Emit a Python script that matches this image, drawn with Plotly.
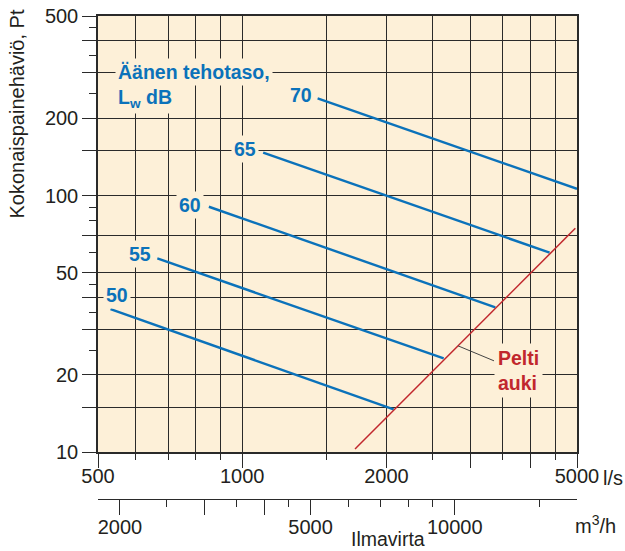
import numpy as np
import plotly.graph_objects as go

# ---- data -------------------------------------------------------------
# Sound power level lines (Lw dB): start / end points in flow (l/s) and pressure (Pa)
sound_levels = [50, 55, 60, 65, 70]
level_start_flow = [531, 665, 852, 1106, 1437]
level_start_dp = [36.1, 56.9, 90.4, 146.8, 239.0]
level_end_flow = [2071, 2634, 3376, 4383, 5000]
level_end_dp = [14.7, 23.2, 36.7, 59.9, 106.2]

# Damper fully open curve
damper_flow = [1720, 4960]
damper_dp = [10.3, 74.5]
damper_label_flow = 2822  # where the "Pelti auki" leader touches the curve

# Axis ticks
flow_major = [500, 1000, 2000, 3000, 4000, 5000]
flow_major_text = ["500", "1000", "2000", "", "", "5000"]
flow_minor = [600, 700, 800, 900, 1500, 2500, 3500, 4500]

dp_major = [10, 15, 20, 30, 40, 50, 70, 100, 150, 200, 300, 400, 500]
dp_major_text = ["10", "", "20", "", "", "50", "", "100", "", "200", "", "", "500"]
dp_minor = [25, 35, 45, 60, 80, 90, 250, 350, 450]

m3h_major = [2000, 3000, 4000, 5000, 10000]
m3h_major_text = ["2000", "", "", "5000", "10000"]
m3h_minor = [2500, 3500, 4500, 6000, 7000, 8000, 9000, 15000]
LS_TO_M3H = 3.6

# ---- styling ----------------------------------------------------------
W, H = 625, 551
ML, MR, MT, MB = 97.5, 48.3, 16, 52
PW, PH = W - ML - MR, H - MT - MB
PLOT_BOTTOM_PX = 452.3

FONT = "Liberation Sans, Arial, Helvetica, sans-serif"
BG = "#fdf0d8"
BLUE = "#0b72ba"
RED = "#c1272d"
GRID = "#2a2a2a"
TXT = "#231f20"

# pixel offsets of each level label from the start of its line
label_shift = [(6, 14.5), (-17, 4), (-19, 2), (-18, 4), (-17, 3)]


def paper_x(px):
    return (px - ML) / PW


def paper_y(py):
    return (H - MB - py) / PH


fig = go.Figure()

for lvl, x0, y0, x1, y1 in zip(sound_levels, level_start_flow, level_start_dp,
                               level_end_flow, level_end_dp):
    fig.add_trace(go.Scatter(x=[x0, x1], y=[y0, y1], mode="lines",
                             line=dict(color=BLUE, width=2.4),
                             name=f"{lvl} dB", showlegend=False, hoverinfo="skip"))

fig.add_trace(go.Scatter(x=damper_flow, y=damper_dp, mode="lines",
                         line=dict(color=RED, width=1.5),
                         name="Pelti auki", showlegend=False, hoverinfo="skip"))

# same damper curve expressed in m3/h, carried (invisibly) by the second flow axis
fig.add_trace(go.Scatter(x=[v * LS_TO_M3H for v in damper_flow], y=damper_dp,
                         xaxis="x2", yaxis="y", mode="lines", opacity=0,
                         line=dict(width=0), showlegend=False, hoverinfo="skip"))

annotations = []
for lvl, x0, y0, (dx, dy) in zip(sound_levels, level_start_flow, level_start_dp, label_shift):
    annotations.append(dict(
        text=str(lvl), x=np.log10(x0), y=np.log10(y0), xref="x", yref="y",
        showarrow=False, xshift=dx, yshift=dy, bgcolor=BG, borderpad=2,
        font=dict(family=FONT, size=19.5, color=BLUE, weight="bold")))

annotations.append(dict(
    text="Äänen tehotaso,", x=paper_x(115), y=paper_y(72), xref="paper", yref="paper",
    xanchor="left", yanchor="middle", showarrow=False, bgcolor=BG, borderpad=2,
    font=dict(family=FONT, size=19.5, color=BLUE, weight="bold")))
annotations.append(dict(
    text="L<sub>w</sub> dB", x=paper_x(115), y=paper_y(98), xref="paper", yref="paper",
    xanchor="left", yanchor="middle", showarrow=False, bgcolor=BG, borderpad=2,
    font=dict(family=FONT, size=19.5, color=BLUE, weight="bold")))

# "Pelti auki" label with a leader to the damper curve
lx = np.log10(damper_label_flow)
slope = (np.log10(damper_dp[1]) - np.log10(damper_dp[0])) / (np.log10(damper_flow[1]) - np.log10(damper_flow[0]))
ly = np.log10(damper_dp[0]) + slope * (lx - np.log10(damper_flow[0]))
annotations.append(dict(
    text="Pelti<br>auki", x=lx, y=ly, xref="x", yref="y", align="left",
    showarrow=True, arrowhead=0, arrowwidth=1, arrowcolor="#444444",
    ax=60, ay=25, bgcolor=BG, borderpad=3,
    font=dict(family=FONT, size=19.5, color=RED, weight="bold")))

# axis captions
annotations += [
    dict(text="Kokonaispainehäviö, Pt", x=paper_x(16), y=paper_y(114), xref="paper", yref="paper",
         xanchor="center", yanchor="middle", textangle=-90, showarrow=False,
         font=dict(family=FONT, size=20, color=TXT)),
    dict(text="l/s", x=paper_x(601), y=paper_y(478), xref="paper", yref="paper",
         xanchor="left", yanchor="middle", showarrow=False,
         font=dict(family=FONT, size=20, color=TXT)),
    dict(text="m<sup>3</sup>/h", x=paper_x(573), y=paper_y(524), xref="paper", yref="paper",
         xanchor="left", yanchor="middle", showarrow=False,
         font=dict(family=FONT, size=20, color=TXT)),
    dict(text="Ilmavirta", x=paper_x(388), y=paper_y(539), xref="paper", yref="paper",
         xanchor="center", yanchor="middle", showarrow=False,
         font=dict(family=FONT, size=19.5, color=TXT)),
]

y_dom0 = (H - MB - PLOT_BOTTOM_PX) / PH

fig.update_layout(
    width=W, height=H,
    margin=dict(l=ML, r=MR, t=MT, b=MB, pad=0, autoexpand=False),
    paper_bgcolor="white", plot_bgcolor=BG,
    showlegend=False,
    font=dict(family=FONT, size=20, color=TXT),
    annotations=annotations,
    xaxis=dict(
        type="log", range=[np.log10(500), np.log10(5000)], anchor="y", automargin=False,
        tickmode="array", tickvals=flow_major, ticktext=flow_major_text,
        ticks="outside", ticklen=14, tickwidth=1.3, tickcolor=GRID,
        ticklabelstandoff=-9,
        showgrid=True, gridcolor=GRID, gridwidth=1.2,
        showline=True, linecolor=GRID, linewidth=1.5, mirror=True,
        tickfont=dict(family=FONT, size=20, color=TXT),
        minor=dict(tickmode="array", tickvals=flow_minor, ticks="outside", ticklen=6,
                   tickwidth=1.3, tickcolor=GRID, showgrid=True, gridcolor=GRID, gridwidth=1.2),
        fixedrange=True,
    ),
    xaxis2=dict(
        type="log", range=[np.log10(500 * LS_TO_M3H), np.log10(5000 * LS_TO_M3H)],
        overlaying="x", anchor="free", position=0, side="bottom", automargin=False,
        tickmode="array", tickvals=m3h_major, ticktext=m3h_major_text,
        ticks="outside", ticklen=15, tickwidth=1.3, tickcolor=GRID,
        ticklabelstandoff=-5,
        showgrid=False, showline=True, linecolor=GRID, linewidth=1.3,
        tickfont=dict(family=FONT, size=20, color=TXT),
        minor=dict(tickmode="array", tickvals=m3h_minor, ticks="outside", ticklen=7,
                   tickwidth=1.3, tickcolor=GRID, showgrid=False),
        fixedrange=True,
    ),
    yaxis=dict(
        type="log", range=[1, np.log10(500)], domain=[y_dom0, 1], automargin=False,
        tickmode="array", tickvals=dp_major, ticktext=dp_major_text,
        ticks="outside", ticklen=14, tickwidth=1.3, tickcolor=GRID,
        showgrid=True, gridcolor=GRID, gridwidth=1.2,
        showline=True, linecolor=GRID, linewidth=1.5, mirror=True,
        tickfont=dict(family=FONT, size=20, color=TXT),
        minor=dict(tickmode="array", tickvals=dp_minor, ticks="outside", ticklen=7,
                   tickwidth=1.3, tickcolor=GRID, showgrid=False),
        fixedrange=True,
    ),
)

fig.write_html("out.html")
